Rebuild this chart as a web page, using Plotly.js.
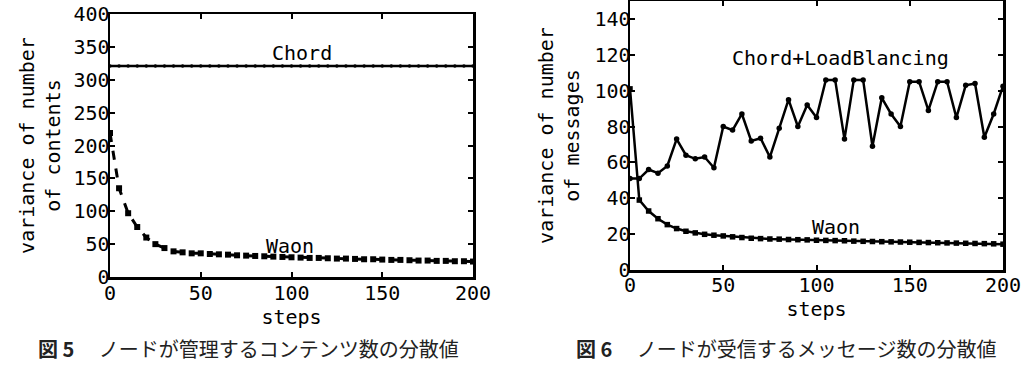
<!DOCTYPE html>
<html>
<head>
<meta charset="utf-8">
<script src="https://cdn.plot.ly/plotly-3.0.1.min.js"></script>
<style>
  html, body { margin: 0; padding: 0; background: #fff; }
  #chart { width: 1027px; height: 366px; }
</style>
</head>
<body>
<div id="chart"></div>
<script>
// ---- data ----
const steps = [0,5,10,15,20,25,30,35,40,45,50,55,60,65,70,75,80,85,90,95,100,
               105,110,115,120,125,130,135,140,145,150,155,160,165,170,175,180,185,190,195,200];

// Fig. 5: variance of number of contents
const chordContents = [321,321,321,321,321,321,321,321,321,321,321,321,321,321,321,321,321,321,321,321,321,
                       321,321,321,321,321,321,321,321,321,321,321,321,321,321,321,321,321,321,321,321];
const waonContents = [219,135,97,76,60,50,44,39,37.5,36,36,35,34.5,34,33,32.5,32,31.5,31,30.5,30,
                      29.5,29,29,28.5,28,28,27.5,27,27,26.5,26,26,25.5,25,25,24.5,24.5,24,24,23.5];

// Fig. 6: variance of number of messages
const chordLBMessages = [51,51,56,54,58,73,64,62,63,57,80,78,87,72,73.5,63,79,95,80,92,85,
                         106,106,73,106,106,69,96,87,80,105,105,89,105,105,85,103,104,74,87,102.5];
const waonMessages = [101,39,32.9,28.6,25.3,23.1,21.6,20.7,19.9,19.4,19,18.5,18.1,17.7,17.5,17.3,17.2,17,16.9,16.8,16.6,
                      16.5,16.4,16.3,16.1,16,15.9,15.8,15.7,15.6,15.5,15.4,15.3,15.2,15.1,15,14.9,14.8,14.7,14.6,14.4];

const xTitle = 'steps';
const yTitle1 = 'variance of number<br>of contents';
const yTitle2 = 'variance of number<br>of messages';
const caption1 = '<b>図 5</b>　 ノードが管理するコンテンツ数の分散値';
const caption2 = '<b>図 6</b>　 ノードが受信するメッセージ数の分散値';

// ---- drawing ----
const W = 1027, H = 366;
const mono = 'DejaVu Sans Mono, monospace';
const fs = 20;

const traces = [
  { x: steps, y: chordContents, xaxis: 'x', yaxis: 'y', mode: 'lines+markers', name: 'Chord',
    line: { color: '#000', width: 2.5 }, marker: { color: '#000', size: 3.5, symbol: 'circle' } },
  { x: steps, y: waonContents, xaxis: 'x', yaxis: 'y', mode: 'lines+markers', name: 'Waon',
    line: { color: '#000', width: 3, dash: 'dash' }, marker: { color: '#000', size: 6, symbol: 'square' } },
  { x: steps, y: chordLBMessages, xaxis: 'x2', yaxis: 'y2', mode: 'lines+markers', name: 'Chord+LoadBlancing',
    line: { color: '#000', width: 2.5 }, marker: { color: '#000', size: 5.5, symbol: 'circle' } },
  { x: steps, y: waonMessages, xaxis: 'x2', yaxis: 'y2', mode: 'lines+markers', name: 'Waon',
    line: { color: '#000', width: 2.5 }, marker: { color: '#000', size: 5.5, symbol: 'square' } }
];

function axisBase(extra) {
  return Object.assign({
    showline: true, mirror: 'allticks', linecolor: '#000', linewidth: 2.5,
    ticks: 'inside', ticklen: 5, tickwidth: 2, tickcolor: '#000',
    showgrid: false, zeroline: false,
    tickfont: { family: mono, size: fs, color: '#000' },
    automargin: false
  }, extra);
}

const layout = {
  width: W, height: H,
  margin: { l: 0, r: 0, t: 0, b: 0 },
  paper_bgcolor: '#fff', plot_bgcolor: '#fff',
  showlegend: false,
  font: { family: mono, size: fs, color: '#000' },
  xaxis: axisBase({ domain: [110 / W, 473 / W], range: [0, 200], dtick: 50, anchor: 'y',
    ticklabelstandoff: -4,
    title: { text: xTitle, font: { family: mono, size: fs, color: '#000' }, standoff: 0 } }),
  yaxis: axisBase({ domain: [(H - 277) / H, (H - 14) / H], range: [0, 400], dtick: 50, anchor: 'x',
    ticklabelstandoff: -6,
    title: { text: yTitle1, font: { family: mono, size: fs, color: '#000' }, standoff: 8 } }),
  xaxis2: axisBase({ domain: [630 / W, 1003 / W], range: [0, 200], dtick: 50, anchor: 'y2',
    ticklabelstandoff: -5,
    title: { text: xTitle, font: { family: mono, size: fs, color: '#000' }, standoff: 0 } }),
  yaxis2: axisBase({ domain: [(H - 270) / H, (H - 1) / H], range: [0, 150], dtick: 20, anchor: 'x2',
    ticklabelstandoff: -7,
    title: { text: yTitle2, font: { family: mono, size: fs, color: '#000' }, standoff: 10 } }),
  annotations: [
    { xref: 'x', yref: 'y', x: 105.6, y: 340, text: 'Chord', showarrow: false,
      font: { family: mono, size: fs, color: '#000' } },
    { xref: 'x', yref: 'y', x: 99, y: 47, text: 'Waon', showarrow: false,
      font: { family: mono, size: fs, color: '#000' } },
    { xref: 'x2', yref: 'y2', x: 113, y: 118, text: 'Chord+LoadBlancing', showarrow: false,
      font: { family: mono, size: fs, color: '#000' } },
    { xref: 'x2', yref: 'y2', x: 110.5, y: 24, text: 'Waon', showarrow: false,
      font: { family: mono, size: fs, color: '#000' } },
    { xref: 'paper', yref: 'paper', x: 248 / W, y: 1 / H, xanchor: 'center', yanchor: 'bottom',
      text: caption1, showarrow: false,
      font: { family: 'Noto Sans CJK JP, sans-serif', size: 20, color: '#222' } },
    { xref: 'paper', yref: 'paper', x: 786 / W, y: 1 / H, xanchor: 'center', yanchor: 'bottom',
      text: caption2, showarrow: false,
      font: { family: 'Noto Sans CJK JP, sans-serif', size: 20, color: '#222' } }
  ]
};

Plotly.newPlot('chart', traces, layout, { displayModeBar: false, staticPlot: true });
</script>
</body>
</html>
